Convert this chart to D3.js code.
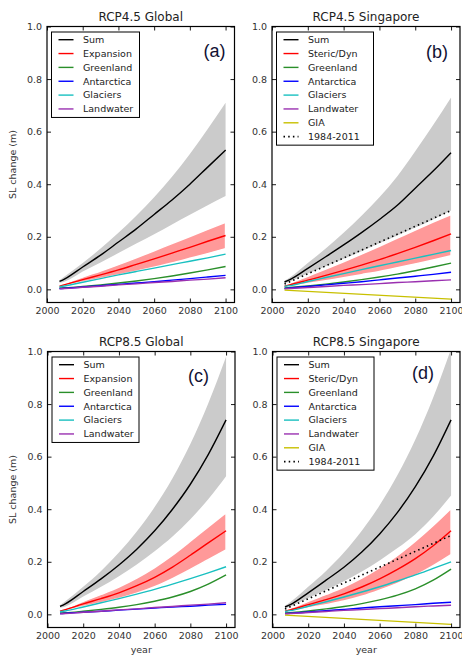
<!DOCTYPE html>
<html><head><meta charset="utf-8">
<script src="https://cdn.jsdelivr.net/npm/d3@7"></script>
<style>body{margin:0;background:#fff} svg{display:block}</style>
</head><body>
<svg id="c" width="462" height="656"></svg>
<script>
// ---------- DATA ----------
const years = [2007, 2010, 2020, 2030, 2040, 2050, 2060, 2070, 2080, 2090, 2100];
const trendYears = [2007, 2100];
const xTicks = [2000, 2020, 2040, 2060, 2080, 2100];
const yTicks = [0.0, 0.2, 0.4, 0.6, 0.8, 1.0];

// (a) RCP4.5 Global
const aSum   = [0.030, 0.040, 0.085, 0.130, 0.180, 0.230, 0.285, 0.340, 0.400, 0.465, 0.530];
const aSumHi = [0.035, 0.050, 0.100, 0.155, 0.215, 0.280, 0.350, 0.428, 0.515, 0.610, 0.710];
const aSumLo = [0.025, 0.030, 0.068, 0.102, 0.138, 0.174, 0.210, 0.247, 0.284, 0.320, 0.355];
const aExp   = [0.012, 0.018, 0.037, 0.055, 0.074, 0.095, 0.116, 0.138, 0.160, 0.183, 0.205];
const aExpHi = [0.015, 0.022, 0.047, 0.070, 0.094, 0.120, 0.147, 0.174, 0.201, 0.228, 0.255];
const aExpLo = [0.009, 0.014, 0.028, 0.041, 0.055, 0.069, 0.084, 0.100, 0.118, 0.136, 0.155];
const aGreenland  = [0.005, 0.006, 0.011, 0.017, 0.024, 0.032, 0.041, 0.051, 0.062, 0.074, 0.087];
const aAntarctica = [0.003, 0.004, 0.009, 0.014, 0.019, 0.024, 0.029, 0.035, 0.041, 0.047, 0.053];
const aGlaciers   = [0.010, 0.013, 0.027, 0.041, 0.055, 0.068, 0.081, 0.094, 0.107, 0.120, 0.134];
const aLandwater  = [0.002, 0.003, 0.008, 0.012, 0.017, 0.021, 0.026, 0.030, 0.035, 0.039, 0.044];

// (b) RCP4.5 Singapore
const bSum   = [0.028, 0.037, 0.080, 0.124, 0.169, 0.216, 0.266, 0.32, 0.385, 0.450, 0.520];
const bSumHi = [0.033, 0.045, 0.100, 0.155, 0.215, 0.280, 0.350, 0.430, 0.525, 0.625, 0.730];
const bSumLo = [0.022, 0.030, 0.060, 0.088, 0.116, 0.145, 0.175, 0.205, 0.235, 0.266, 0.300];
const bSteric   = [0.012, 0.017, 0.035, 0.053, 0.072, 0.092, 0.113, 0.136, 0.160, 0.185, 0.211];
const bStericHi = [0.016, 0.023, 0.050, 0.077, 0.105, 0.134, 0.164, 0.195, 0.226, 0.256, 0.285];
const bStericLo = [0.008, 0.011, 0.022, 0.033, 0.044, 0.056, 0.068, 0.082, 0.097, 0.112, 0.128];
const bGreenland  = [0.005, 0.007, 0.013, 0.020, 0.028, 0.037, 0.047, 0.058, 0.071, 0.085, 0.100];
const bAntarctica = [0.003, 0.005, 0.011, 0.017, 0.023, 0.029, 0.036, 0.043, 0.050, 0.057, 0.065];
const bGlaciers   = [0.011, 0.014, 0.030, 0.045, 0.060, 0.075, 0.090, 0.104, 0.119, 0.133, 0.148];
const bLandwater  = [0.002, 0.003, 0.007, 0.011, 0.015, 0.018, 0.022, 0.026, 0.029, 0.033, 0.036];
const bGIA   = [-0.003, -0.037];
const bTrend = [0.020, 0.300];

// (c) RCP8.5 Global
const cSum   = [0.030, 0.040, 0.087, 0.135, 0.188, 0.248, 0.318, 0.400, 0.495, 0.608, 0.740];
const cSumHi = [0.035, 0.050, 0.105, 0.165, 0.235, 0.315, 0.408, 0.518, 0.648, 0.802, 0.980];
const cSumLo = [0.025, 0.030, 0.068, 0.105, 0.145, 0.190, 0.240, 0.296, 0.362, 0.438, 0.525];
const cExp   = [0.012, 0.018, 0.040, 0.060, 0.082, 0.109, 0.141, 0.180, 0.225, 0.272, 0.318];
const cExpHi = [0.015, 0.022, 0.050, 0.076, 0.104, 0.138, 0.178, 0.225, 0.278, 0.333, 0.387];
const cExpLo = [0.009, 0.014, 0.030, 0.044, 0.060, 0.080, 0.105, 0.136, 0.171, 0.208, 0.245];
const cGreenland  = [0.005, 0.006, 0.012, 0.019, 0.027, 0.037, 0.050, 0.066, 0.087, 0.115, 0.150];
const cAntarctica = [0.003, 0.004, 0.008, 0.012, 0.016, 0.020, 0.024, 0.028, 0.031, 0.035, 0.038];
const cGlaciers   = [0.010, 0.013, 0.028, 0.044, 0.060, 0.077, 0.095, 0.115, 0.136, 0.158, 0.181];
const cLandwater  = [0.002, 0.003, 0.008, 0.012, 0.017, 0.021, 0.026, 0.030, 0.035, 0.039, 0.044];

// (d) RCP8.5 Singapore
const dSum   = [0.028, 0.037, 0.082, 0.130, 0.179, 0.237, 0.306, 0.388, 0.486, 0.602, 0.740];
const dSumHi = [0.033, 0.047, 0.105, 0.165, 0.235, 0.318, 0.415, 0.530, 0.665, 0.825, 1.010];
const dSumLo = [0.022, 0.030, 0.062, 0.093, 0.126, 0.163, 0.205, 0.252, 0.305, 0.372, 0.452];
const dSteric   = [0.012, 0.017, 0.037, 0.056, 0.078, 0.104, 0.135, 0.171, 0.212, 0.261, 0.318];
const dStericHi = [0.016, 0.023, 0.050, 0.076, 0.104, 0.138, 0.178, 0.224, 0.278, 0.338, 0.403];
const dStericLo = [0.008, 0.011, 0.024, 0.037, 0.051, 0.069, 0.092, 0.118, 0.148, 0.185, 0.227];
const dGreenland  = [0.005, 0.006, 0.013, 0.021, 0.030, 0.041, 0.055, 0.073, 0.097, 0.130, 0.172];
const dAntarctica = [0.003, 0.004, 0.009, 0.014, 0.019, 0.024, 0.029, 0.033, 0.037, 0.042, 0.046];
const dGlaciers   = [0.011, 0.014, 0.031, 0.048, 0.066, 0.085, 0.105, 0.127, 0.150, 0.175, 0.200];
const dLandwater  = [0.002, 0.003, 0.007, 0.011, 0.015, 0.018, 0.022, 0.025, 0.029, 0.032, 0.035];
const dGIA   = [-0.003, -0.038];
const dTrend = [0.020, 0.300];

const titles = ["RCP4.5 Global", "RCP4.5 Singapore", "RCP8.5 Global", "RCP8.5 Singapore"];
const tags = ["(a)", "(b)", "(c)", "(d)"];

// ---------- STYLE ----------
const C = {sum:"#000000", red:"#ff0000", green:"#2a8f2a", blue:"#0000ff", cyan:"#19c0c0",
           purple:"#9a30b0", gia:"#c8c000", grey:"#cbcbcb", pink:"#ff9999"};
const FONT = "'DejaVu Sans', sans-serif";

function panel(sum, sumHi, sumLo, red, redHi, redLo, redName, gl, an, gc, lw, gia, trend) {
  const lines = [
    {name:"Sum", c:C.sum, v:sum, x:years},
    {name:redName, c:C.red, v:red, x:years},
    {name:"Greenland", c:C.green, v:gl, x:years},
    {name:"Antarctica", c:C.blue, v:an, x:years},
    {name:"Glaciers", c:C.cyan, v:gc, x:years},
    {name:"Landwater", c:C.purple, v:lw, x:years}
  ];
  if (gia) lines.push({name:"GIA", c:C.gia, v:gia, x:trendYears});
  if (trend) lines.push({name:"1984-2011", c:"#000", v:trend, x:trendYears, dotted:true});
  return {bands:[{hi:sumHi, lo:sumLo, c:C.grey}, {hi:redHi, lo:redLo, c:C.pink, edge:true}], lines};
}

const panels = [
  Object.assign(panel(aSum,aSumHi,aSumLo,aExp,aExpHi,aExpLo,"Expansion",aGreenland,aAntarctica,aGlaciers,aLandwater),
    {L:47, R:234.5, T:26.5, B:302.5, legW:88, tagDx:9, tagDy:30.5, ylab:true, xlab:false}),
  Object.assign(panel(bSum,bSumHi,bSumLo,bSteric,bStericHi,bStericLo,"Steric/Dyn",bGreenland,bAntarctica,bGlaciers,bLandwater,bGIA,bTrend),
    {L:272, R:460, T:26.5, B:302.5, legW:97, tagDx:12, tagDy:31.5, ylab:false, xlab:false}),
  Object.assign(panel(cSum,cSumHi,cSumLo,cExp,cExpHi,cExpLo,"Expansion",cGreenland,cAntarctica,cGlaciers,cLandwater),
    {L:47.5, R:235, T:351.5, B:627.5, legW:87, tagDx:26, tagDy:30.5, ylab:true, xlab:true}),
  Object.assign(panel(dSum,dSumHi,dSumLo,dSteric,dStericHi,dStericLo,"Steric/Dyn",dGreenland,dAntarctica,dGlaciers,dLandwater,dGIA,dTrend),
    {L:272.5, R:460, T:351.5, B:627.5, legW:97, tagDx:26, tagDy:27.5, ylab:false, xlab:true})
];

const svg = d3.select("#c");

panels.forEach((p, i) => {
  const x = d3.scaleLinear().domain([2000, 2105]).range([p.L, p.R]);
  const y = d3.scaleLinear().domain([-0.05, 1.0]).range([p.B, p.T]);
  const g = svg.append("g");
  const clipId = "clip" + i;
  svg.append("clipPath").attr("id", clipId).append("rect")
    .attr("x", p.L).attr("y", p.T).attr("width", p.R - p.L).attr("height", p.B - p.T);
  const plot = g.append("g").attr("clip-path", `url(#${clipId})`);

  // bands
  p.bands.forEach(b => {
    const area = d3.area().x((d, k) => x(years[k])).y0((d, k) => y(b.lo[k])).y1((d, k) => y(b.hi[k]))
      .curve(d3.curveMonotoneX);
    plot.append("path").attr("d", area(years)).attr("fill", b.c)
      .attr("stroke", b.edge ? "#fff" : "none").attr("stroke-width", b.edge ? 1.5 : 0);
  });
  // lines
  p.lines.forEach(l => {
    const line = d3.line().x((d, k) => x(l.x[k])).y(d => y(d)).curve(d3.curveMonotoneX);
    plot.append("path").attr("d", line(l.v)).attr("fill", "none").attr("stroke", l.c)
      .attr("stroke-width", l.dotted ? 1.6 : 1.4)
      .attr("stroke-dasharray", l.dotted ? "1.5,3.2" : null);
  });

  // axes
  const fmtY = d3.format(".1f"), fmtX = d3.format("d");
  const gy = g.append("g").attr("transform", `translate(${p.L},0)`)
    .call(d3.axisLeft(y).tickValues(yTicks).tickFormat(fmtY).tickSizeInner(-4).tickSizeOuter(0).tickPadding(5));
  const gx = g.append("g").attr("transform", `translate(0,${p.B})`)
    .call(d3.axisBottom(x).tickValues(xTicks).tickFormat(fmtX).tickSizeInner(-4).tickSizeOuter(0).tickPadding(5));
  const gr = g.append("g").attr("transform", `translate(${p.R},0)`)
    .call(d3.axisRight(y).tickValues(yTicks).tickFormat("").tickSizeInner(-4).tickSizeOuter(0));
  const gt = g.append("g").attr("transform", `translate(0,${p.T})`)
    .call(d3.axisTop(x).tickValues(xTicks).tickFormat("").tickSizeInner(-4).tickSizeOuter(0));
  [gy, gx, gr, gt].forEach(a => {
    a.select(".domain").remove();
    a.selectAll("line").attr("stroke", "#000").attr("stroke-width", 0.9);
    a.selectAll("text").attr("font-family", FONT).attr("font-size", 9.5).attr("fill", "#333");
  });
  g.append("rect").attr("x", p.L).attr("y", p.T).attr("width", p.R - p.L).attr("height", p.B - p.T)
    .attr("fill", "none").attr("stroke", "#000").attr("stroke-width", 1.2);

  // title
  g.append("text").attr("x", (p.L + p.R) / 2).attr("y", p.T - 6).attr("text-anchor", "middle")
    .attr("font-family", FONT).attr("font-size", 12).attr("fill", "#222").text(titles[i]);
  // tag
  g.append("text").attr("x", p.R - p.tagDx).attr("y", p.T + p.tagDy).attr("text-anchor", "end")
    .attr("font-family", "'Liberation Sans', Arial, sans-serif").attr("font-size", 18).attr("fill", "#111133")
    .text(tags[i]);
  if (p.ylab) {
    g.append("text").attr("transform", `translate(16,${(p.T + p.B) / 2}) rotate(-90)`)
      .attr("text-anchor", "middle").attr("font-family", FONT).attr("font-size", 9.5).attr("fill", "#333")
      .text("SL change (m)");
  }
  if (p.xlab) {
    g.append("text").attr("x", (p.L + p.R) / 2).attr("y", 653).attr("text-anchor", "middle")
      .attr("font-family", FONT).attr("font-size", 9.5).attr("fill", "#333").text("year");
  }

  // legend
  const lx = p.L + 4.5, ly = p.T + 5.5, rowH = 13.85;
  const leg = g.append("g");
  leg.append("rect").attr("x", lx).attr("y", ly).attr("width", p.legW)
    .attr("height", 7.7 + rowH * (p.lines.length - 1) + 8.5)
    .attr("fill", "#fff").attr("stroke", "#000").attr("stroke-width", 1);
  p.lines.forEach((l, k) => {
    const yy = ly + 7.7 + rowH * k;
    leg.append("line").attr("x1", lx + 7).attr("x2", lx + 22).attr("y1", yy).attr("y2", yy)
      .attr("stroke", l.c).attr("stroke-width", l.dotted ? 1.6 : 1.4)
      .attr("stroke-dasharray", l.dotted ? "1.5,3.2" : null);
    leg.append("text").attr("x", lx + 31.5).attr("y", yy).attr("dy", "0.35em")
      .attr("font-family", FONT).attr("font-size", 9.5).attr("fill", "#222").text(l.name);
  });
});
</script></body></html>
